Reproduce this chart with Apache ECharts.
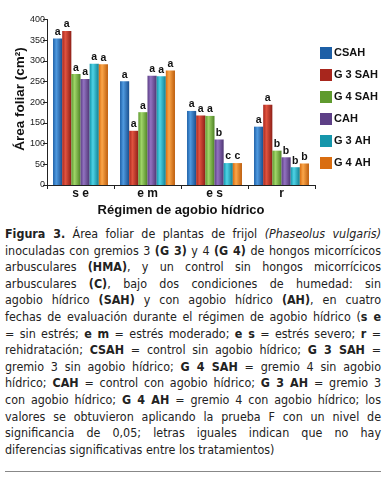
<!DOCTYPE html>
<html>
<head>
<meta charset="utf-8">
<script src="https://cdn.jsdelivr.net/npm/echarts@6/dist/echarts.min.js"></script>
<style>
  html, body { margin: 0; padding: 0; background: #fff; }
  #chart { width: 386px; height: 222px; }
  #caption {
    position: absolute; left: 5px; top: 226px; width: 376px;
    font-family: "DejaVu Sans Condensed", "DejaVu Sans", sans-serif;
    font-size: 12.4px; line-height: 16.6px; color: #222;
  }
  #caption div { text-align: justify; text-align-last: justify; white-space: nowrap; }
  #caption div.last { text-align-last: left; }
  #rule { position: absolute; left: 5px; top: 471px; width: 376px; height: 1px; background: #888; }
</style>
</head>
<body>
<div id="chart"></div>
<div id="caption"></div>
<div id="rule"></div>
<script>
// categorias (regimen de agobio hidrico)
var categories = ['s e', 'e m', 'e s', 'r'];
var seriesNames = ['CSAH', 'G 3 SAH', 'G 4 SAH', 'CAH', 'G 3 AH', 'G 4 AH'];

// area foliar (cm2) por tratamiento
var csah   = [354, 251, 179, 141];
var g3sah  = [372, 131, 168, 194];
var g4sah  = [268, 176, 167, 83];
var cah    = [256, 264, 110, 67];
var g3ah   = [293, 263, 53, 43];
var g4ah   = [292, 277, 53, 52];

// letras de significancia
var letCsah  = ['a', 'a', 'a', 'a'];
var letG3sah = ['a', 'a', 'a', 'a'];
var letG4sah = ['a', 'a', 'a', 'b'];
var letCah   = ['a', 'a', 'b', 'b'];
var letG3ah  = ['a', 'a', 'c', 'b'];
var letG4ah  = ['a', 'a', 'c', 'b'];

var yTicks = [0, 50, 100, 150, 200, 250, 300, 350, 400];
var yName = 'Área foliar (cm²)';

var captionLines = [
  '<b>Figura 3.</b> Área foliar de plantas de frijol <i>(Phaseolus vulgaris)</i>',
  'inoculadas con gremios 3 <b>(G 3)</b> y 4 <b>(G 4)</b> de hongos micorrícicos',
  'arbusculares <b>(HMA)</b>, y un control sin hongos micorrícicos',
  'arbusculares <b>(C)</b>, bajo dos condiciones de humedad: sin',
  'agobio hídrico <b>(SAH)</b> y con agobio hídrico <b>(AH)</b>, en cuatro',
  'fechas de evaluación durante el régimen de agobio hídrico (<b>s e</b>',
  '= sin estrés; <b>e m</b> = estrés moderado; <b>e s</b> = estrés severo; <b>r</b> =',
  'rehidratación; <b>CSAH</b> = control sin agobio hídrico; <b>G 3 SAH</b> =',
  'gremio 3 sin agobio hídrico; <b>G 4 SAH</b> = gremio 4 sin agobio',
  'hídrico; <b>CAH</b> = control con agobio hídrico; <b>G 3 AH</b> = gremio 3',
  'con agobio hídrico; <b>G 4 AH</b> = gremio 4 con agobio hídrico; los',
  'valores se obtuvieron aplicando la prueba F con un nivel de',
  'significancia de 0,05; letras iguales indican que no hay',
  'diferencias significativas entre los tratamientos)'
];

var cap = document.getElementById('caption');
for (var i = 0; i < captionLines.length; i++) {
    var d = document.createElement('div');
    d.innerHTML = captionLines[i];
    if (i == captionLines.length - 1) d.className = 'last';
    cap.appendChild(d);
}

var values = [csah, g3sah, g4sah, cah, g3ah, g4ah];
var letters = [letCsah, letG3sah, letG4sah, letCah, letG3ah, letG4ah];
// [oscuro, claro, oscuro derecha]
var colors = [
    ['#1d5fa6', '#4f9ae0', '#1a4f8e'],
    ['#a8261d', '#e0533f', '#8e1f17'],
    ['#5f9a2e', '#9fd468', '#4f8425'],
    ['#5d3f86', '#9272c0', '#4e3573'],
    ['#1596ab', '#4ed3e6', '#117f92'],
    ['#d96d10', '#fba649', '#bd5d0c']
];

function grad(c) {
    return new echarts.graphic.LinearGradient(0, 0, 1, 0, [
        {offset: 0, color: c[0]},
        {offset: 0.35, color: c[1]},
        {offset: 1, color: c[2]}
    ]);
}

var series = [];
for (var s = 0; s < seriesNames.length; s++) {
    (function (s) {
        series.push({
            name: seriesNames[s],
            type: 'bar',
            barGap: '0%',
            barCategoryGap: '18%',
            data: values[s],
            itemStyle: {color: grad(colors[s])},
            label: {
                show: true,
                position: 'top',
                distance: 1,
                fontFamily: 'Liberation Sans',
                fontWeight: 'bold',
                fontSize: 10.5,
                color: '#111',
                formatter: function (p) { return letters[s][p.dataIndex]; }
            }
        });
    })(s);
}

var option = {
    animation: false,
    grid: {left: 47, right: 71, top: 19.5, bottom: 32.5},
    legend: {
        orient: 'vertical',
        left: 315,
        top: 42,
        itemWidth: 12,
        itemHeight: 12,
        itemGap: 10,
        icon: 'rect',
        textStyle: {fontFamily: 'Liberation Sans', fontWeight: 'bold', fontSize: 11, color: '#111', padding: [0, 0, 0, -3]},
        data: seriesNames.map(function (n, i) {
            return {name: n, itemStyle: {color: colors[i][0]}};
        })
    },
    // titulo del eje y, girado
    graphic: [{
        type: 'text',
        x: 20,
        y: 99,
        rotation: Math.PI / 2,
        style: {
            text: yName,
            fontFamily: 'Liberation Sans',
            fontWeight: 'bold',
            fontSize: 13.5,
            fill: '#111',
            align: 'center',
            verticalAlign: 'middle'
        }
    }],
    xAxis: {
        type: 'category',
        data: categories,
        name: 'Régimen de agobio hídrico',
        nameLocation: 'middle',
        nameGap: 19,
        nameMoveOverlap: false,
        nameTextStyle: {fontFamily: 'Liberation Sans', fontWeight: 'bold', fontSize: 13, color: '#111'},
        axisLine: {lineStyle: {color: '#222'}},
        axisTick: {show: true, length: 4, lineStyle: {color: '#222'}},
        axisLabel: {fontFamily: 'Liberation Sans', fontWeight: 'bold', fontSize: 12, color: '#111', margin: 3}
    },
    yAxis: {
        type: 'value',
        min: yTicks[0],
        max: yTicks[yTicks.length - 1],
        interval: 50,
        axisLine: {show: true, lineStyle: {color: '#222'}},
        axisTick: {show: true, length: 4, lineStyle: {color: '#222'}},
        splitLine: {show: false},
        axisLabel: {fontFamily: 'Liberation Sans', fontSize: 9, color: '#222', margin: 2}
    },
    series: series
};

var myChart = echarts.init(document.getElementById('chart'));
myChart.setOption(option);
</script>
</body>
</html>
